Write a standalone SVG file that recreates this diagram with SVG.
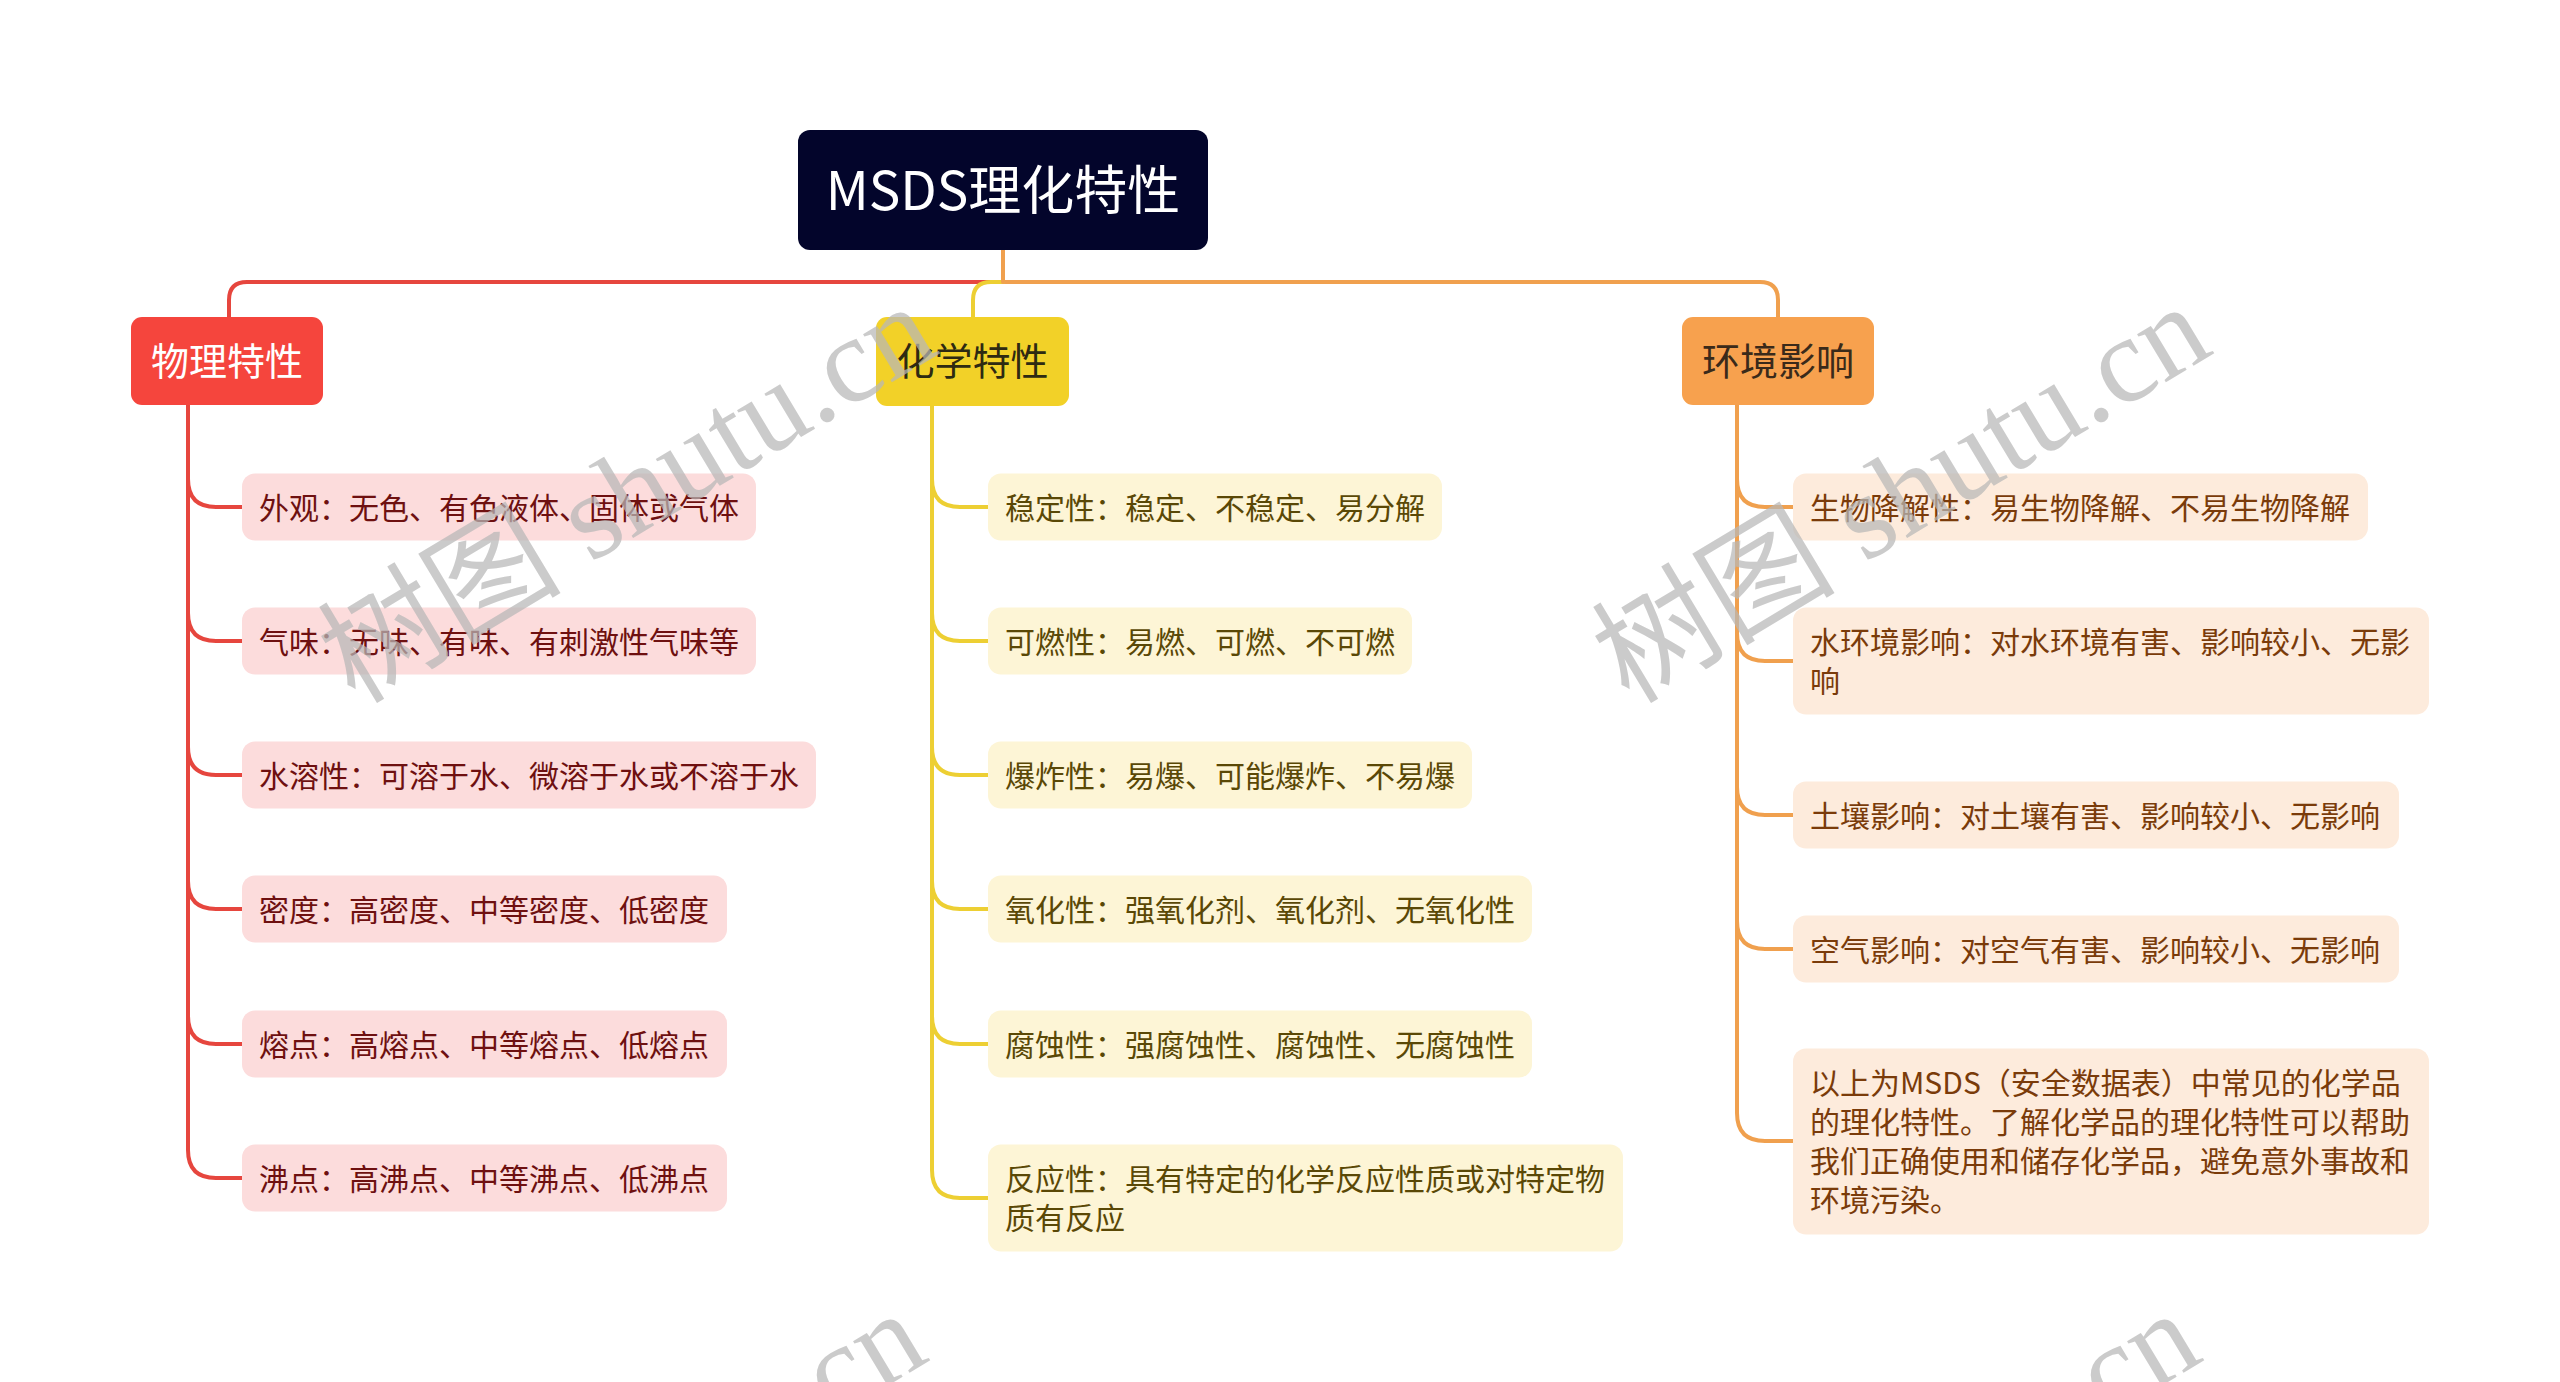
<svg xmlns="http://www.w3.org/2000/svg" width="2560" height="1382" viewBox="0 0 2560 1382">
<style>
text{font-family:"Noto Sans CJK SC","Noto Sans",sans-serif;}
.root-t{font-size:53px;fill:#ffffff;text-anchor:middle;}
.br-t{font-size:38px;text-anchor:middle;}
.ch-t{font-size:30px;}
.c-red{fill:none;stroke:#E6463E;stroke-width:4;stroke-linecap:round;}
.c-yel{fill:none;stroke:#EDCF33;stroke-width:4;stroke-linecap:round;}
.c-org{fill:none;stroke:#F0A04E;stroke-width:4;stroke-linecap:round;}
.n-red{fill:#FCDCDC;}
.n-yel{fill:#FDF5D6;}
.n-org{fill:#FDEBDC;}
.t-red{fill:#6E1010;}
.t-yel{fill:#5A4806;}
.t-org{fill:#7A3B0A;}
.wm{font-family:"Liberation Serif","Noto Sans CJK SC",serif;font-size:122px;fill:#B8B8B8;opacity:0.72;}
</style>
<rect x="0" y="0" width="2560" height="1382" fill="#ffffff"/>
<g id="connectors">
  <path class="c-red" d="M1000,282 L247,282 Q229,282 229,300 L229,317"/>
  <path class="c-org" d="M1003,282 L1760,282 Q1778,282 1778,300 L1778,317"/>
  <path class="c-yel" d="M1003,282 L991,282 Q973,282 973,300 L973,317"/>
  <path class="c-org" d="M1003,250 L1003,282"/>
  <path class="c-red" d="M188,405 L188,479 Q188,507 216,507 L242,507"/>
  <path class="c-red" d="M188,405 L188,613 Q188,641 216,641 L242,641"/>
  <path class="c-red" d="M188,405 L188,747 Q188,775 216,775 L242,775"/>
  <path class="c-red" d="M188,405 L188,881 Q188,909 216,909 L242,909"/>
  <path class="c-red" d="M188,405 L188,1016 Q188,1044 216,1044 L242,1044"/>
  <path class="c-red" d="M188,405 L188,1150 Q188,1178 216,1178 L242,1178"/>
  <path class="c-yel" d="M932,406 L932,479 Q932,507 960,507 L988,507"/>
  <path class="c-yel" d="M932,406 L932,613 Q932,641 960,641 L988,641"/>
  <path class="c-yel" d="M932,406 L932,747 Q932,775 960,775 L988,775"/>
  <path class="c-yel" d="M932,406 L932,881 Q932,909 960,909 L988,909"/>
  <path class="c-yel" d="M932,406 L932,1016 Q932,1044 960,1044 L988,1044"/>
  <path class="c-yel" d="M932,406 L932,1170 Q932,1198 960,1198 L988,1198"/>
  <path class="c-org" d="M1737,405 L1737,479 Q1737,507 1765,507 L1793,507"/>
  <path class="c-org" d="M1737,405 L1737,633 Q1737,661 1765,661 L1793,661"/>
  <path class="c-org" d="M1737,405 L1737,787 Q1737,815 1765,815 L1793,815"/>
  <path class="c-org" d="M1737,405 L1737,921 Q1737,949 1765,949 L1793,949"/>
  <path class="c-org" d="M1737,405 L1737,1113 Q1737,1141 1765,1141 L1793,1141"/>
</g>
<g id="root">
  <rect x="798" y="130" width="410" height="120" rx="12" fill="#03052B"/>
  <text class="root-t" x="1003" y="210">MSDS理化特性</text>
</g>
<g id="phys">
  <rect x="131" y="317" width="192" height="88" rx="11" fill="#F5453D"/>
  <text class="br-t" x="227" y="375" fill="#ffffff">物理特性</text>
</g>
<g id="chem">
  <rect x="876" y="317" width="193" height="89" rx="11" fill="#F2D128"/>
  <text class="br-t" x="972.5" y="375" fill="#2E2A12">化学特性</text>
</g>
<g id="env">
  <rect x="1682" y="317" width="192" height="88" rx="11" fill="#F7A14E"/>
  <text class="br-t" x="1778" y="375" fill="#3A2A1A">环境影响</text>
</g>
<g id="p1"><rect class="n-red" x="242" y="473.5" width="514" height="67" rx="13"/><text class="ch-t t-red" x="259" y="518.5">外观：无色、有色液体、固体或气体</text></g>
<g id="p2"><rect class="n-red" x="242" y="607.5" width="514" height="67" rx="13"/><text class="ch-t t-red" x="259" y="652.5">气味：无味、有味、有刺激性气味等</text></g>
<g id="p3"><rect class="n-red" x="242" y="741.5" width="574" height="67" rx="13"/><text class="ch-t t-red" x="259" y="786.5">水溶性：可溶于水、微溶于水或不溶于水</text></g>
<g id="p4"><rect class="n-red" x="242" y="875.5" width="485" height="67" rx="13"/><text class="ch-t t-red" x="259" y="920.5">密度：高密度、中等密度、低密度</text></g>
<g id="p5"><rect class="n-red" x="242" y="1010.5" width="485" height="67" rx="13"/><text class="ch-t t-red" x="259" y="1055.5">熔点：高熔点、中等熔点、低熔点</text></g>
<g id="p6"><rect class="n-red" x="242" y="1144.5" width="485" height="67" rx="13"/><text class="ch-t t-red" x="259" y="1189.5">沸点：高沸点、中等沸点、低沸点</text></g>
<g id="c1"><rect class="n-yel" x="988" y="473.5" width="454" height="67" rx="13"/><text class="ch-t t-yel" x="1005" y="518.5">稳定性：稳定、不稳定、易分解</text></g>
<g id="c2"><rect class="n-yel" x="988" y="607.5" width="424" height="67" rx="13"/><text class="ch-t t-yel" x="1005" y="652.5">可燃性：易燃、可燃、不可燃</text></g>
<g id="c3"><rect class="n-yel" x="988" y="741.5" width="484" height="67" rx="13"/><text class="ch-t t-yel" x="1005" y="786.5">爆炸性：易爆、可能爆炸、不易爆</text></g>
<g id="c4"><rect class="n-yel" x="988" y="875.5" width="544" height="67" rx="13"/><text class="ch-t t-yel" x="1005" y="920.5">氧化性：强氧化剂、氧化剂、无氧化性</text></g>
<g id="c5"><rect class="n-yel" x="988" y="1010.5" width="544" height="67" rx="13"/><text class="ch-t t-yel" x="1005" y="1055.5">腐蚀性：强腐蚀性、腐蚀性、无腐蚀性</text></g>
<g id="c6"><rect class="n-yel" x="988" y="1144.5" width="635" height="107" rx="13"/><text class="ch-t t-yel" x="1005" y="1190">反应性：具有特定的化学反应性质或对特定物</text><text class="ch-t t-yel" x="1005" y="1229">质有反应</text></g>
<g id="e1"><rect class="n-org" x="1793" y="473.5" width="575" height="67" rx="13"/><text class="ch-t t-org" x="1810" y="518.5">生物降解性：易生物降解、不易生物降解</text></g>
<g id="e2"><rect class="n-org" x="1793" y="607.5" width="636" height="107" rx="13"/><text class="ch-t t-org" x="1810" y="653">水环境影响：对水环境有害、影响较小、无影</text><text class="ch-t t-org" x="1810" y="692">响</text></g>
<g id="e3"><rect class="n-org" x="1793" y="781.5" width="606" height="67" rx="13"/><text class="ch-t t-org" x="1810" y="826.5">土壤影响：对土壤有害、影响较小、无影响</text></g>
<g id="e4"><rect class="n-org" x="1793" y="915.5" width="606" height="67" rx="13"/><text class="ch-t t-org" x="1810" y="960.5">空气影响：对空气有害、影响较小、无影响</text></g>
<g id="e5"><rect class="n-org" x="1793" y="1048.5" width="636" height="186" rx="13"/>
  <text class="ch-t t-org" x="1810" y="1094">以上为MSDS（安全数据表）中常见的化学品</text>
  <text class="ch-t t-org" x="1810" y="1133">的理化特性。了解化学品的理化特性可以帮助</text>
  <text class="ch-t t-org" x="1810" y="1172">我们正确使用和储存化学品，避免意外事故和</text>
  <text class="ch-t t-org" x="1810" y="1211">环境污染。</text>
</g>
<g id="watermark">
  <text class="wm" transform="translate(355,705) rotate(-31)">树图 shutu.cn</text>
  <text class="wm" transform="translate(1629,705) rotate(-31)">树图 shutu.cn</text>
  <text class="wm" transform="translate(345,1712) rotate(-31)">树图 shutu.cn</text>
  <text class="wm" transform="translate(1619,1712) rotate(-31)">树图 shutu.cn</text>
</g>
</svg>
